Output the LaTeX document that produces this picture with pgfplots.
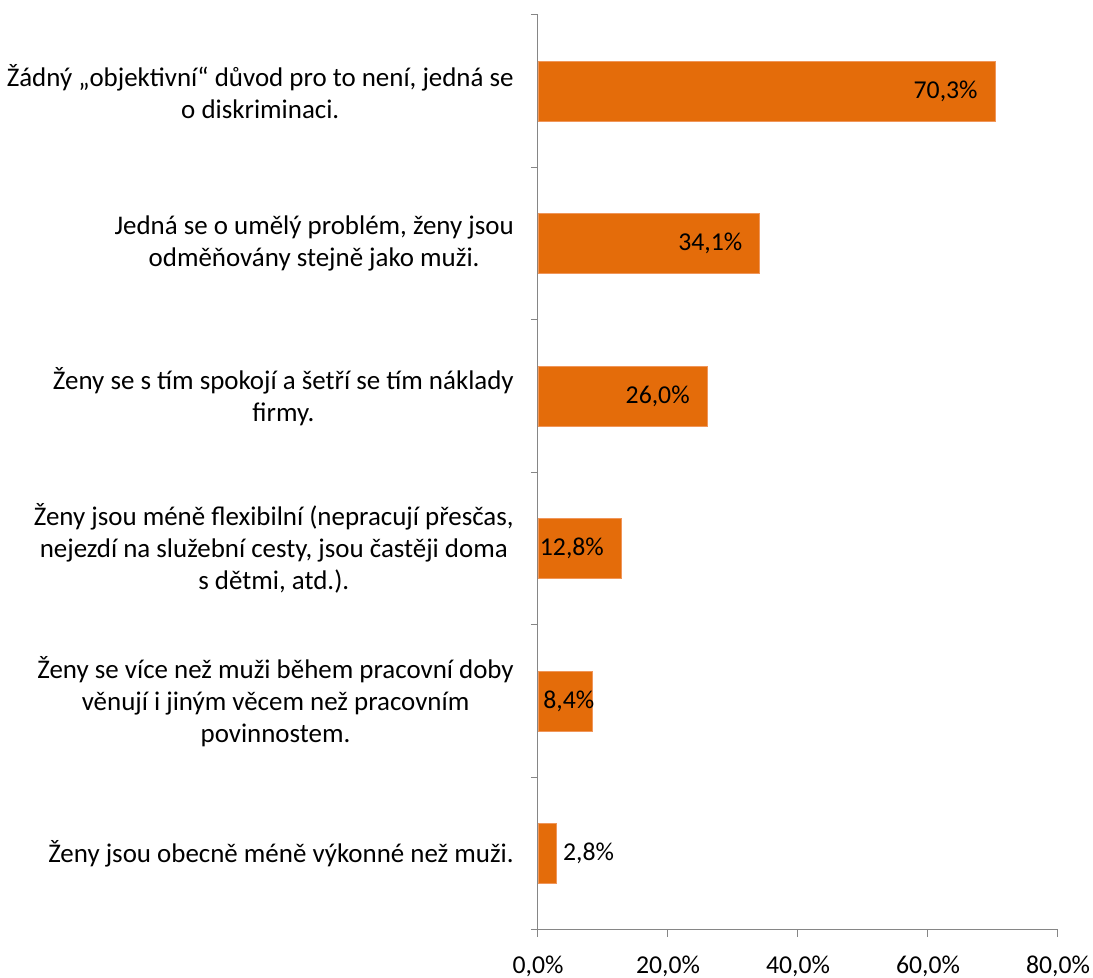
\documentclass[border=0pt]{standalone}
\usepackage{pgfplots}
\pgfplotsset{compat=1.18}
\usepackage{fontspec}
\setmainfont{Carlito}
\definecolor{barorange}{HTML}{E46C0A}
\definecolor{baredge}{HTML}{F0965A}
\definecolor{axgray}{HTML}{868686}

\newcommand{\lblfont}{\fontsize{19.3}{24}\selectfont}
\newcommand{\catfont}{\fontsize{20.2}{24}\selectfont}

\begin{document}
\begin{tikzpicture}
\path[use as bounding box] (-403.5pt,-36pt) rectangle (416.25pt,697.5pt);
\begin{axis}[
  at={(0,0)}, anchor=south west,
  scale only axis, width=390pt, height=686.25pt,
  xmin=0, xmax=80, ymin=-0.5, ymax=5.5,
  xbar, bar shift=0pt,
  axis x line*=bottom, axis y line*=left,
  axis line style={axgray, line width=0.75pt},
  tick align=outside,
  major tick length=5.25pt,
  tick style={axgray, line width=0.75pt},
  /pgf/number format/.cd, fixed, fixed zerofill, precision=1, use comma, assume math mode=true,
  /pgfplots/.cd,
  xtick={0,20,40,60,80},
  xticklabel={\pgfmathprintnumber{\tick}\%},
  xticklabel style={font=\lblfont, anchor=north, inner sep=0pt, yshift=-14pt},
  ytick={-0.5,0.5,1.5,2.5,3.5,4.5,5.5},
  yticklabels={},
  extra y ticks={0,1,2,3,4,5},
  extra y tick labels={
    {Ženy jsou obecně méně výkonné než muži.},
    {Ženy se více než muži během pracovní doby\\věnují i jiným věcem než pracovním\\povinnostem.},
    {Ženy jsou méně flexibilní (nepracují přesčas,\\nejezdí na služební cesty, jsou častěji doma\\s dětmi, atd.).},
    {Ženy se s tím spokojí a šetří se tím náklady\\firmy.},
    {Jedná se o umělý problém, ženy jsou\\odměňovány stejně jako muži.},
    {Žádný „objektivní“ důvod pro to není, jedná se\\o diskriminaci.}
  },
  extra y tick style={major tick length=0pt,
    yticklabel style={font=\catfont, align=center, anchor=east, inner sep=0pt, xshift=-18pt}},
  every axis plot/.append style={bar width=0.393, fill=barorange, draw=baredge, line width=0.5pt,
    point meta=x, nodes near coords={\pgfmathprintnumber{\pgfplotspointmeta}\%}},
]
\addplot[every node near coord/.append style={anchor=east, xshift=-12.75pt, inner sep=0pt, font=\lblfont, text=black}]
  coordinates {(12.8,2) (26.0,3) (34.1,4) (70.3,5)};
\addplot[every node near coord/.append style={anchor=east, xshift=1.5pt, inner sep=0pt, font=\lblfont, text=black}]
  coordinates {(8.4,1)};
\addplot[every node near coord/.append style={anchor=west, xshift=5pt, inner sep=0pt, font=\lblfont, text=black}]
  coordinates {(2.8,0)};
\end{axis}
\end{tikzpicture}
\end{document}
